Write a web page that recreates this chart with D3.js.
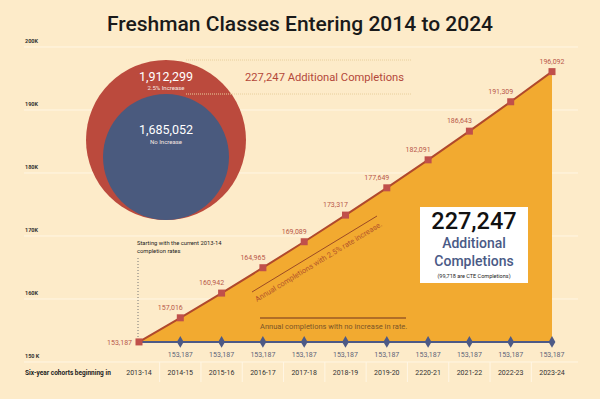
<!DOCTYPE html>
<html>
<head>
<meta charset="utf-8">
<script src="https://cdn.jsdelivr.net/npm/d3@7"></script>
<style>
  body { margin: 0; background: #fdebc9; }
  svg { display: block; }
  text { font-family: Roboto, "Liberation Sans", Arial, sans-serif; }
</style>
</head>
<body>
<svg id="chart" width="600" height="399"></svg>
<script>
const cohorts = ["2013-14", "2014-15", "2015-16", "2016-17", "2017-18", "2018-19",
  "2019-20", "2220-21", "2021-22", "2022-23", "2023-24"];
const withIncrease = [153187, 157016, 160942, 164965, 169089, 173317, 177649,
  182091, 186643, 191309, 196092];
const noIncrease = [153187, 153187, 153187, 153187, 153187, 153187, 153187,
  153187, 153187, 153187, 153187];
const yTicks = [150000, 160000, 170000, 180000, 190000, 200000];
const yTickLabels = ["150 K", "160K", "170K", "180K", "190K", "200K"];
const totals = [1912299, 1685052];
const totalLabels = ["2.5% Increase", "No Increase"];
const additional = 227247;
const cteCompletions = 99718;

const width = 600, height = 399;
const svg = d3.select("#chart");
const fmt = d3.format(",");

const x = d3.scalePoint().domain(cohorts).range([139, 552]);
const y = d3.scaleLinear().domain([150000, 200000]).range([362, 47]);

// title
svg.append("text")
  .attr("x", 300).attr("y", 31)
  .attr("text-anchor", "middle")
  .attr("font-size", 21)
  .attr("font-family", "Roboto, sans-serif")
  .attr("font-weight", 500)
  .attr("fill", "#1a1a1a")
  .text("Freshman Classes Entering 2014 to 2024");

// gridlines + tick labels
svg.append("g")
  .selectAll("line")
  .data(yTicks)
  .join("line")
  .attr("x1", 24).attr("x2", 578)
  .attr("y1", (d) => y(d)).attr("y2", (d) => y(d))
  .attr("stroke", "#fff6e4")
  .attr("stroke-width", 1);

svg.append("g")
  .selectAll("text")
  .data(yTicks)
  .join("text")
  .attr("x", 25)
  .attr("y", (d) => y(d) - 4)
  .attr("font-size", 5.5)
  .attr("font-weight", "bold")
  .attr("fill", "#333")
  .text((d, i) => yTickLabels[i]);

// x label band
const band = svg.append("g");
band.selectAll("line")
  .data(cohorts.slice(1))
  .join("line")
  .attr("x1", (d) => x(d) - x.step() / 2)
  .attr("x2", (d) => x(d) - x.step() / 2)
  .attr("y1", 362).attr("y2", 382)
  .attr("stroke", "#fff6e4");
band.selectAll("text")
  .data(cohorts)
  .join("text")
  .attr("x", (d) => x(d))
  .attr("y", 375)
  .attr("text-anchor", "middle")
  .attr("font-size", 7)
  .attr("fill", "#333")
  .text((d) => d);
band.append("text")
  .attr("x", 25).attr("y", 375)
  .attr("font-size", 6.5)
  .attr("font-weight", "bold")
  .attr("fill", "#222")
  .text("Six-year cohorts beginning in");

// circles
const r = d3.scaleLinear().domain([totals[1], totals[0]]).range([63, 80]);
const cx = 166, bottom = 220;
const circleColors = ["#bb4a3d", "#4a5a7e"];
svg.append("g")
  .selectAll("circle")
  .data(totals)
  .join("circle")
  .attr("cx", cx)
  .attr("cy", (d) => bottom - r(d))
  .attr("r", (d) => r(d))
  .attr("fill", (d, i) => circleColors[i]);

const cl = svg.append("g").attr("text-anchor", "middle");
totals.forEach((d, i) => {
  const top = bottom - 2 * r(d);
  cl.append("text").attr("x", cx).attr("y", top + (i ? 40 : 21))
    .attr("font-size", 12.5).attr("fill", "#fff").text(fmt(d));
  cl.append("text").attr("x", cx).attr("y", top + (i ? 50 : 30))
    .attr("font-size", 6).attr("fill", "#f5e6e0").text(totalLabels[i]);
});

// dotted guides from circle tops
totals.forEach((d) => {
  const ty = bottom - 2 * r(d);
  svg.append("line")
    .attr("x1", cx + 20).attr("x2", 412)
    .attr("y1", ty).attr("y2", ty)
    .attr("stroke", "#e8cf9c")
    .attr("stroke-dasharray", "1,1");
});
svg.append("text")
  .attr("x", 245).attr("y", 81)
  .attr("font-size", 11.2)
  .attr("fill", "#b4483a")
  .text(fmt(additional) + " Additional Completions");

// area between lines
const area = d3.area()
  .x((d, i) => x(cohorts[i]))
  .y0((d, i) => y(noIncrease[i]))
  .y1((d) => y(d));
svg.append("path")
  .datum(withIncrease)
  .attr("d", area)
  .attr("fill", "#f2aa30");

// upper line
const line = d3.line().x((d, i) => x(cohorts[i])).y((d) => y(d));
svg.append("path")
  .datum(withIncrease)
  .attr("d", line)
  .attr("fill", "none")
  .attr("stroke", "#b0492c")
  .attr("stroke-width", 2);

// lower line
svg.append("path")
  .datum(noIncrease)
  .attr("d", line)
  .attr("fill", "none")
  .attr("stroke", "#4d5a86")
  .attr("stroke-width", 2);

// markers
svg.append("g")
  .selectAll("path")
  .data(noIncrease.slice(1))
  .join("path")
  .attr("d", d3.symbol(d3.symbolDiamond, 40))
  .attr("transform", (d, i) => `translate(${x(cohorts[i + 1])},${y(d)})`)
  .attr("fill", "#4d5a86");
svg.append("g")
  .selectAll("rect")
  .data(withIncrease)
  .join("rect")
  .attr("x", (d, i) => x(cohorts[i]) - 3.5)
  .attr("y", (d) => y(d) - 3.5)
  .attr("width", 7).attr("height", 7)
  .attr("fill", "#c0504b");

// value labels
svg.append("g")
  .selectAll("text")
  .data(withIncrease)
  .join("text")
  .attr("x", (d, i) => i === 0 ? x(cohorts[i]) - 7 : i === cohorts.length - 1 ? x(cohorts[i]) : x(cohorts[i]) - 10)
  .attr("y", (d, i) => i === 0 ? y(d) + 3 : y(d) - 8)
  .attr("text-anchor", (d, i) => i === 0 ? "end" : "middle")
  .attr("font-size", 7)
  .attr("fill", "#b8584a")
  .text((d) => fmt(d));
svg.append("g")
  .selectAll("text")
  .data(noIncrease.slice(1))
  .join("text")
  .attr("x", (d, i) => x(cohorts[i + 1]))
  .attr("y", 357)
  .attr("text-anchor", "middle")
  .attr("font-size", 7)
  .attr("fill", "#5d6478")
  .text((d) => fmt(d));

// annotations
svg.append("line")
  .attr("x1", x(cohorts[0]) - 1).attr("x2", x(cohorts[0]) - 1)
  .attr("y1", 258).attr("y2", 338)
  .attr("stroke", "#777")
  .attr("stroke-dasharray", "1,2");
const note = svg.append("text")
  .attr("x", 137).attr("y", 245)
  .attr("font-size", 5.8)
  .attr("fill", "#222");
note.append("tspan").attr("x", 137).text("Starting with the current 2013-14");
note.append("tspan").attr("x", 137).attr("dy", 8).text("completion rates");

svg.append("line")
  .attr("x1", 252).attr("y1", 292).attr("x2", 377).attr("y2", 216)
  .attr("stroke", "#9b4a25").attr("stroke-width", 1);
svg.append("text")
  .attr("transform", "translate(257,302) rotate(-31.3)")
  .attr("font-size", 7.5)
  .attr("fill", "#b4552a")
  .text("Annual completions with 2.5% rate increase.");

svg.append("line")
  .attr("x1", 260).attr("x2", 406)
  .attr("y1", 318).attr("y2", 318)
  .attr("stroke", "#9b5a25").attr("stroke-width", 1.5);
svg.append("text")
  .attr("x", 260).attr("y", 329)
  .attr("font-size", 7.5)
  .attr("fill", "#7b5528")
  .text("Annual completions with no increase in rate.");

// callout box
const box = svg.append("g");
box.append("rect")
  .attr("x", 420).attr("y", 207)
  .attr("width", 108).attr("height", 76)
  .attr("fill", "#fff");
box.append("text")
  .attr("x", 474).attr("y", 229)
  .attr("text-anchor", "middle")
  .attr("font-size", 23.5)
  .attr("font-weight", 500)
  .attr("fill", "#111")
  .text(fmt(additional));
box.append("text")
  .attr("x", 474).attr("y", 248)
  .attr("text-anchor", "middle")
  .attr("font-size", 14)
  .attr("font-weight", 500)
  .attr("fill", "#4a5a86")
  .text("Additional");
box.append("text")
  .attr("x", 474).attr("y", 266)
  .attr("text-anchor", "middle")
  .attr("font-size", 14)
  .attr("font-weight", 500)
  .attr("fill", "#4a5a86")
  .text("Completions");
box.append("text")
  .attr("x", 474).attr("y", 278)
  .attr("text-anchor", "middle")
  .attr("font-size", 5.5)
  .attr("fill", "#222")
  .text(`(${fmt(cteCompletions)} are CTE Completions)`);
</script>
</body>
</html>
